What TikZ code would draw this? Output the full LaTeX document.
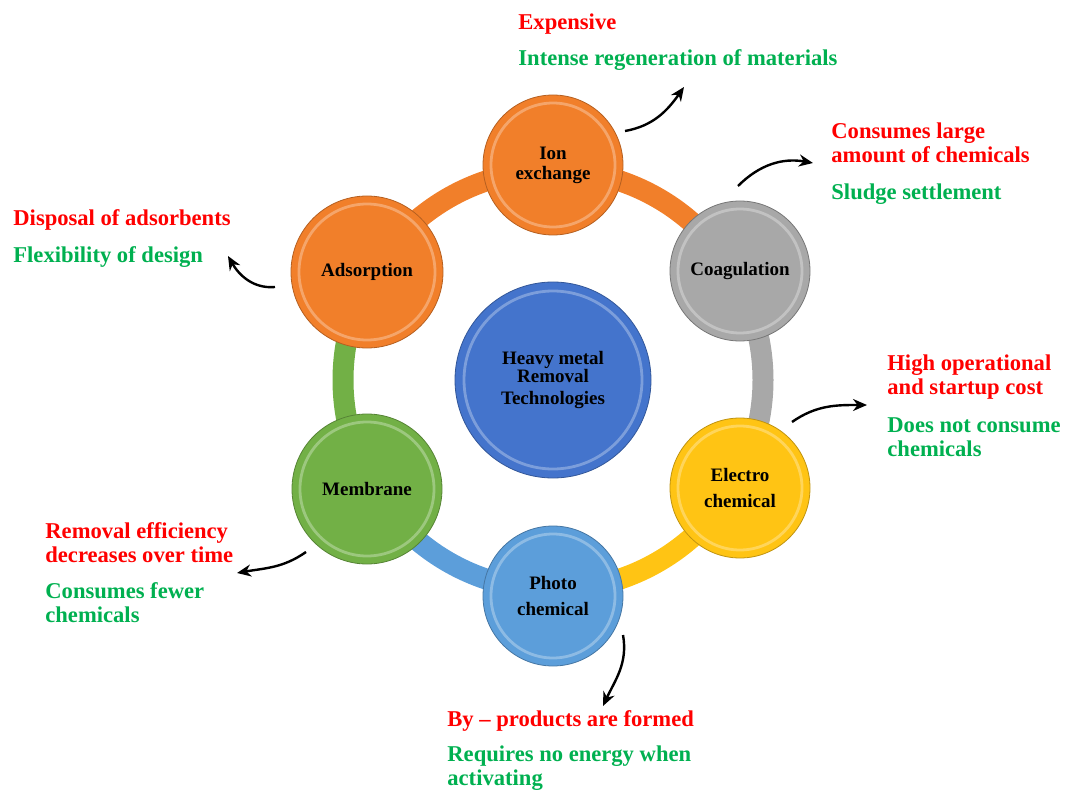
\documentclass[tikz,border=0pt]{standalone}
\usepackage{fontspec}
\setmainfont{Liberation Serif}
\usepackage{xcolor}
\usepackage{tikz}
\usetikzlibrary{positioning}
\usetikzlibrary{arrows.meta}

\definecolor{ionc}{RGB}{241,127,42}
\definecolor{coagc}{RGB}{168,168,168}
\definecolor{elecc}{RGB}{255,196,20}
\definecolor{photoc}{RGB}{92,158,218}
\definecolor{membc}{RGB}{114,176,70}
\definecolor{hubc}{RGB}{68,116,204}
\definecolor{badc}{RGB}{255,0,0}
\definecolor{goodc}{RGB}{0,176,80}

\tikzset{
  tech/.style={circle, inner sep=0pt, minimum size=#1, align=center,
    font=\fontsize{9.5}{10}\selectfont\bfseries},
  ring/.style={line width=10.5pt},
  bevel/.style={line width=1.4pt, #1!45!white, opacity=0.55},
  con/.style={anchor=base west, align=left, text=badc,
    font=\fontsize{11.3}{12}\selectfont\bfseries, inner sep=0pt},
  pro/.style={con, text=goodc},
  lead/.style={-{Stealth[length=7pt,width=6pt]}, line width=1.2pt, black},
}

\begin{document}
\begin{tikzpicture}[x=0.5pt,y=0.5pt]
\useasboundingbox (0,0) rectangle (1065,-791);

% hub
\node[tech=98pt, fill=hubc, draw=hubc!75!black, line width=0.4pt] (hub) at (553,-380) {Heavy metal\\[-1pt]Removal\\[1pt]Technologies};
\draw[bevel=hubc] (hub.center) circle (89);

% ring, one arc per technology
\draw[ring, ionc] ([shift={(90:210)}]hub.center) arc[start angle=90, end angle=30, radius=210];
\draw[ring, coagc] ([shift={(30:210)}]hub.center) arc[start angle=30, end angle=-30, radius=210];
\draw[ring, elecc] ([shift={(-30:210)}]hub.center) arc[start angle=-30, end angle=-90, radius=210];
\draw[ring, photoc] ([shift={(-90:210)}]hub.center) arc[start angle=-90, end angle=-150, radius=210];
\draw[ring, membc] ([shift={(-150:210)}]hub.center) arc[start angle=-150, end angle=-210, radius=210];
\draw[ring, ionc] ([shift={(150:210)}]hub.center) arc[start angle=150, end angle=90, radius=210];

% technologies
\node[tech=70pt, fill=ionc, draw=ionc!75!black, line width=0.4pt] (ion) at (553,-165) {Ion\\exchange};
\node[tech=70pt, fill=coagc, draw=coagc!70!black, line width=0.4pt] (coag) at (740,-271) {Coagulation};
\node[tech=70pt, fill=elecc, draw=elecc!75!black, line width=0.4pt] (elec) at (740,-488) {Electro\\[3pt]chemical};
\node[tech=70pt, fill=photoc, draw=photoc!75!black, line width=0.4pt] (photo) at (553,-596) {Photo\\[3pt]chemical};
\node[tech=75pt, fill=membc, draw=membc!75!black, line width=0.4pt] (memb) at (367,-489) {Membrane};
\node[tech=76pt, fill=ionc, draw=ionc!75!black, line width=0.4pt] (ads) at (367,-272) {Adsorption};

\draw[bevel=ionc] (ion.center) circle (62);
\draw[bevel=coagc] (coag.center) circle (62);
\draw[bevel=elecc] (elec.center) circle (62);
\draw[bevel=photoc] (photo.center) circle (62);
\draw[bevel=membc] (memb.center) circle (67);
\draw[bevel=ionc] (ads.center) circle (68);

% drawbacks (red) and advantages (green), placed on their last baseline
\node[con] (ionbad) at (518,-30) {Expensive};
\node[pro] (iongood) at (518,-66) {Intense regeneration of materials};
\node[con] (coagbad) at (831,-163) {Consumes large\\amount of chemicals};
\node[pro] (coaggood) at (831,-200) {Sludge settlement};
\node[con] (elecbad) at (887,-394) {High operational\\and startup cost};
\node[pro] (elecgood) at (887,-456) {Does not consume\\chemicals};
\node[con] (photobad) at (447,-726) {By -- products are formed};
\node[pro] (photogood) at (447,-785) {Requires no energy when\\activating};
\node[con] (membbad) at (45,-562) {Removal efficiency\\decreases over time};
\node[pro] (membgood) at (45,-622) {Consumes fewer\\chemicals};
\node[con] (adsbad) at (13,-226) {Disposal of adsorbents};
\node[pro] (adsgood) at (13,-263) {Flexibility of design};

% leader arrows
\coordinate (ionfrom) at (625,-131);
\coordinate (ionto) at (684,-87);
\coordinate (coagfrom) at (738,-186);
\coordinate (coagto) at (813,-163);
\coordinate (elecfrom) at (792,-422);
\coordinate (electo) at (867,-405);
\coordinate (photofrom) at (623,-635);
\coordinate (phototo) at (603,-706);
\coordinate (membfrom) at (306,-552);
\coordinate (membto) at (237,-573);
\coordinate (adsfrom) at (275,-287);
\coordinate (adsto) at (228,-256);

\draw[lead] (ionfrom) to[out=10, in=-125] (ionto);
\draw[lead] (coagfrom) to[out=45, in=170] (coagto);
\draw[lead] (elecfrom) to[out=35, in=180] (electo);
\draw[lead] (photofrom) to[out=-80, in=65] (phototo);
\draw[lead] (membfrom) to[out=-145, in=10] (membto);
\draw[lead] (adsfrom) to[out=185, in=-60] (adsto);

\end{tikzpicture}
\end{document}
